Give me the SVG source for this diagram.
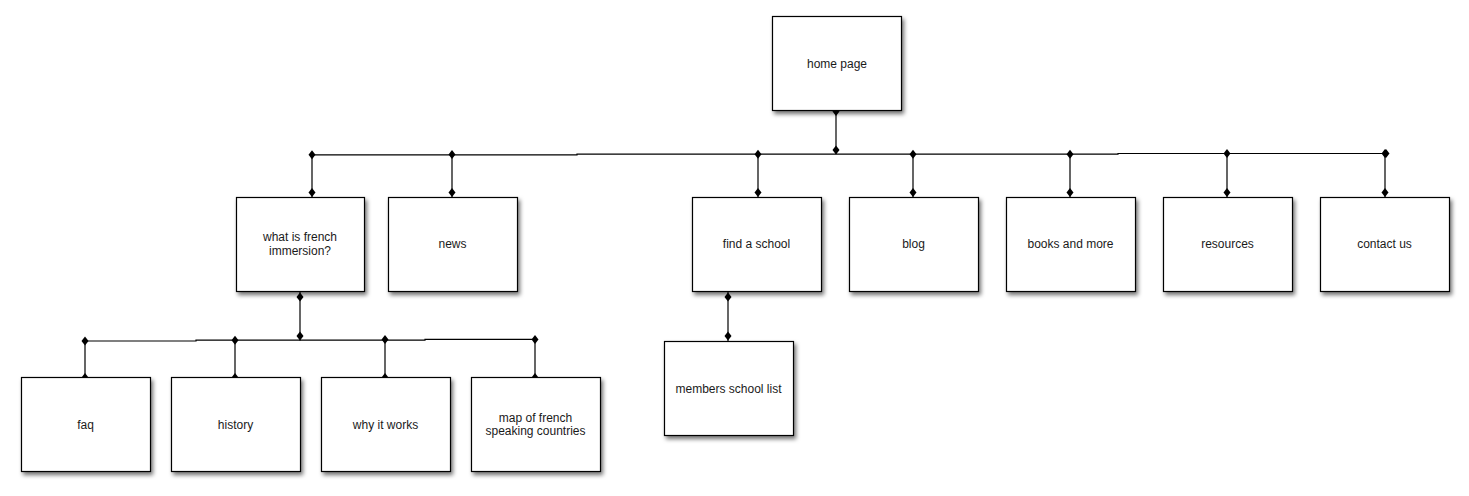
<svg xmlns="http://www.w3.org/2000/svg" width="1469" height="496" viewBox="0 0 1469 496">
<style>
.box{fill:#fff;stroke:#000;stroke-width:1.2;filter:url(#sh)}
.lbl{font-family:"Liberation Sans",Arial,sans-serif;font-size:12px;fill:#1a1a1a;text-anchor:middle}
.ln{fill:none;stroke:#000;stroke-width:1.2}
</style>
<defs>
<filter id="sh" x="-10%" y="-10%" width="125%" height="130%">
<feDropShadow dx="2" dy="3" stdDeviation="2" flood-color="#000" flood-opacity="0.55"/>
</filter>
<path id="dm" d="M0,-4.5 L3.5,0 L0,4.5 L-3.5,0 Z" fill="#000"/>
</defs>
<rect width="1469" height="496" fill="#fff"/>

<g id="connectors">
<path class="ln" d="M836,111 V154"/>
<path class="ln" d="M312,154.8 H577 V154.2 H1118 V153.5 H1387"/>
<path class="ln" d="M312,154.8 V197 M452,154.5 V197 M758,154.2 V197 M913,154.2 V197 M1070,154.2 V197 M1227,153.5 V197 M1385,153.5 V197"/>
<path class="ln" d="M300,292 V340.5"/>
<path class="ln" d="M85,341 H196 V340.2 H425 V339.4 H535"/>
<path class="ln" d="M85,341 V377 M235,340.2 V377 M385,339.4 V377 M535,339.4 V377"/>
<path class="ln" d="M728,292 V341"/>
<use href="#dm" x="836" y="111.5"/>
<use href="#dm" x="836" y="150"/>
<use href="#dm" x="312" y="154.8"/>
<use href="#dm" x="452" y="154.5"/>
<use href="#dm" x="758" y="154.2"/>
<use href="#dm" x="913" y="154.2"/>
<use href="#dm" x="1070" y="154.2"/>
<use href="#dm" x="1227" y="153.5"/>
<use href="#dm" x="1385" y="153.5"/>
<use href="#dm" x="1386" y="153.5"/>
<use href="#dm" x="312" y="192.5"/>
<use href="#dm" x="452" y="192.5"/>
<use href="#dm" x="758" y="192.5"/>
<use href="#dm" x="913" y="192.5"/>
<use href="#dm" x="1070" y="192.5"/>
<use href="#dm" x="1227" y="192.5"/>
<use href="#dm" x="1385" y="192.5"/>
<use href="#dm" x="300" y="297"/>
<use href="#dm" x="300" y="336"/>
<use href="#dm" x="85" y="341"/>
<use href="#dm" x="235" y="340.2"/>
<use href="#dm" x="385" y="339.4"/>
<use href="#dm" x="535" y="339.4"/>
<use href="#dm" x="85" y="377.5"/>
<use href="#dm" x="235" y="377.5"/>
<use href="#dm" x="385" y="377.5"/>
<use href="#dm" x="535" y="377.5"/>
<use href="#dm" x="728" y="297"/>
<use href="#dm" x="728" y="336"/>
</g>

<g id="home-page"><rect class="box" x="772.5" y="16.5" width="129" height="94"/><text class="lbl" x="837" y="67.5">home page</text></g>

<g id="what-is-french-immersion"><rect class="box" x="236.5" y="197.5" width="128" height="94"/><text class="lbl" x="300" y="241">what is french</text><text class="lbl" x="300" y="254.5">immersion?</text></g>
<g id="news"><rect class="box" x="388.5" y="197.5" width="129" height="94"/><text class="lbl" x="452.5" y="248">news</text></g>
<g id="find-a-school"><rect class="box" x="692.5" y="197.5" width="129" height="94"/><text class="lbl" x="756.5" y="248">find a school</text></g>
<g id="blog"><rect class="box" x="849.5" y="197.5" width="129" height="94"/><text class="lbl" x="913.5" y="248">blog</text></g>
<g id="books-and-more"><rect class="box" x="1006.5" y="197.5" width="129" height="94"/><text class="lbl" x="1070.5" y="248">books and more</text></g>
<g id="resources"><rect class="box" x="1163.5" y="197.5" width="129" height="94"/><text class="lbl" x="1227.5" y="248">resources</text></g>
<g id="contact-us"><rect class="box" x="1320.5" y="197.5" width="129" height="94"/><text class="lbl" x="1384.5" y="248">contact us</text></g>

<g id="faq"><rect class="box" x="21.5" y="377.5" width="129" height="94"/><text class="lbl" x="85.5" y="429">faq</text></g>
<g id="history"><rect class="box" x="171.5" y="377.5" width="129" height="94"/><text class="lbl" x="235.5" y="429">history</text></g>
<g id="why-it-works"><rect class="box" x="321.5" y="377.5" width="129" height="94"/><text class="lbl" x="385.5" y="429">why it works</text></g>
<g id="map-of-french-speaking-countries"><rect class="box" x="471.5" y="377.5" width="129" height="94"/><text class="lbl" x="535.5" y="421.5">map of french</text><text class="lbl" x="535.5" y="435">speaking countries</text></g>

<g id="members-school-list"><rect class="box" x="664.5" y="341.5" width="129" height="94"/><text class="lbl" x="728.5" y="392.5">members school list</text></g>
</svg>
